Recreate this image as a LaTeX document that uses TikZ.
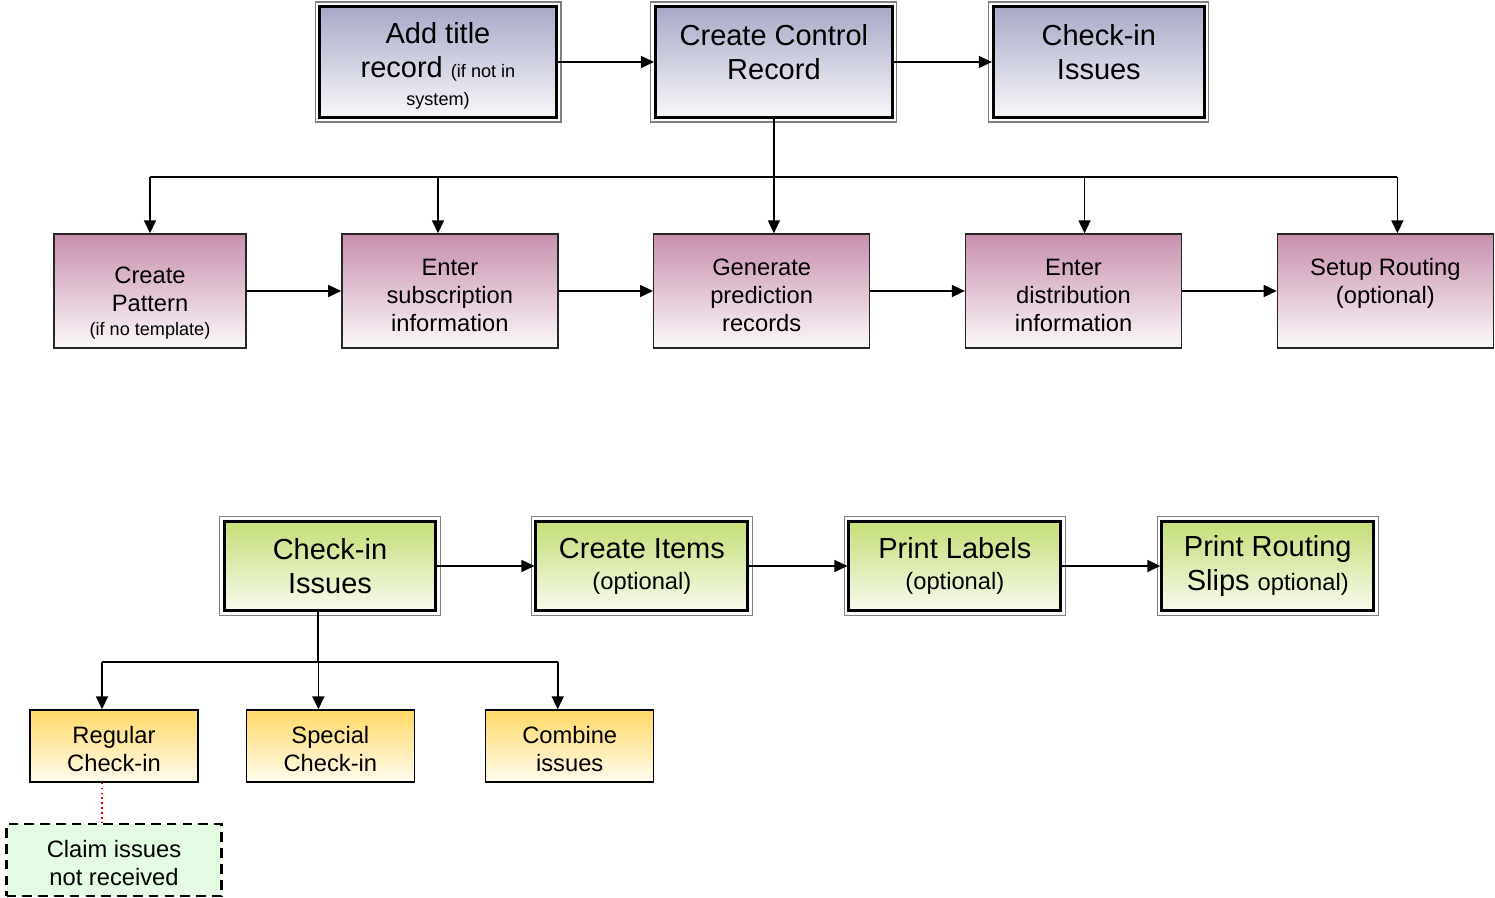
\documentclass[tikz,border=0pt]{standalone}
\usepackage{fontspec}
\setmainfont{Liberation Sans}
\usepackage{xcolor}
\usetikzlibrary{arrows.meta, positioning}

\definecolor{lilac}{HTML}{A8A9C8}
\definecolor{mauve}{HTML}{C78FAD}
\definecolor{lime}{HTML}{C4DE76}
\definecolor{butter}{HTML}{FFD966}
\definecolor{mint}{HTML}{E4FBE4}

\newcommand{\bigtxt}{\fontsize{16.5}{19.3}\selectfont}
\newcommand{\midtxt}{\fontsize{13.5}{15.8}\selectfont}
\newcommand{\smalltxt}{\fontsize{10.3}{12}\selectfont}
\newcommand{\pad}[1]{\rule{0pt}{#1}}

\begin{document}
\begin{tikzpicture}[
        x=0.02cm, y=-0.02cm,
        font=\midtxt,
        recbox/.style={rectangle, draw=black, line width=1.7pt, align=center, inner sep=2pt, top color=lilac, bottom color=lilac!8, minimum width=4.74cm, minimum height=2.22cm, font=\bigtxt},
        stepbox/.style={rectangle, draw=black!85, line width=0.8pt, align=center, inner sep=2pt, top color=mauve, bottom color=mauve!6, minimum width=4.32cm, minimum height=2.28cm},
        issuebox/.style={rectangle, draw=black, line width=1.7pt, align=center, inner sep=2pt, top color=lime, bottom color=lime!12, minimum width=4.24cm, minimum height=1.8cm, font=\bigtxt},
        modebox/.style={rectangle, draw=black, line width=0.8pt, align=center, inner sep=2pt, top color=butter, bottom color=butter!10, minimum width=3.36cm, minimum height=1.44cm},
        claimbox/.style={rectangle, draw=black, line width=1.5pt, dash pattern=on 5.5pt off 3.5pt, fill=mint, align=center, minimum width=4.3cm, minimum height=1.44cm},
        link/.style={line width=0.9pt},
        flow/.style={link, -{Triangle[length=0.26cm, width=0.24cm]}},
        frame/.style={draw=black!50, line width=0.6pt}
    ]
        \useasboundingbox (0,0) rectangle (1495,898);

        % serial record setup
        \node[recbox] (title) at (438,62) {\pad{16.5pt}Add title\\record {\smalltxt (if not in}\\[-3pt]{\smalltxt system)}};
        \node[recbox, right=1.92cm of title] (control) {\pad{16.5pt}Create Control\\Record\\[-3pt]\mbox{}};
        \node[recbox, right=1.96cm of control, minimum width=4.22cm] (checkin) {\pad{16.5pt}Check-in\\Issues\\[-3pt]\mbox{}};

        \node[stepbox, minimum width=3.84cm] (pattern) at (150,291) {\pad{23.5pt}Create\\Pattern\\[-2pt]{\smalltxt (if no template)}};
        \node[stepbox, right=1.89cm of pattern] (subscr) {\pad{14.5pt}Enter\\subscription\\information};
        \node[stepbox, right=1.89cm of subscr] (predict) {\pad{14.5pt}Generate\\prediction\\records};
        \node[stepbox, right=1.89cm of predict] (distrib) {\pad{14.5pt}Enter\\distribution\\information};
        \node[stepbox, right=1.89cm of distrib] (routing) {\pad{14.5pt}Setup Routing\\(optional)\\\mbox{}};

        % check-in of issues
        \node[issuebox] (checkinb) at (330,566) {Check-in\\Issues};
        \node[issuebox, right=1.94cm of checkinb] (items) {Create Items\\[-1.5pt]{\midtxt (optional)}};
        \node[issuebox, right=1.96cm of items] (labels) {Print Labels\\[-1.5pt]{\midtxt (optional)}};
        \node[issuebox, right=1.96cm of labels] (slips) {Print Routing\\Slips {\midtxt optional)}};

        \node[modebox] (regular) at (114,746) {\pad{13.3pt}Regular\\Check-in};
        \node[modebox, right=0.94cm of regular] (special) {\pad{13.3pt}Special\\Check-in};
        \node[modebox, right=1.40cm of special] (combine) {\pad{13.3pt}Combine\\issues};
        \node[claimbox, below=0.8cm of regular] (claim) {\pad{13.3pt}Claim issues\\not received};

        % thin outer frames
        \foreach \n in {title,control,checkin,checkinb,items,labels,slips}
            \draw[frame] ([shift={(-3,-3)}]\n.north west) rectangle ([shift={(3,3)}]\n.south east);

        % connections
        \coordinate (bus) at (0,177);
        \coordinate (split) at (0,662);
        \coordinate (disttop) at ([xshift=0.22cm]distrib.north);
        \coordinate (routtop) at ([xshift=0.24cm]routing.north);
        \coordinate (tap) at ([xshift=-0.24cm]checkinb.south);
        \foreach \n in {regular,special,combine}
            \coordinate (\n top) at ([xshift=-0.24cm]\n.north);

        \draw[flow] (title) -- (control);
        \draw[flow] (control) -- (checkin);
        \draw[flow] (control.south) -- (control |- predict.north);
        \draw[link] (pattern |- bus) -- (routtop |- bus);
        \draw[flow] (pattern |- bus) -- (pattern.north);
        \draw[flow] (title |- bus) -- (title |- subscr.north);
        \draw[flow] (disttop |- bus) -- (disttop);
        \draw[flow] (routtop |- bus) -- (routtop);
        \draw[flow] (pattern) -- (subscr);
        \draw[flow] (subscr) -- (predict);
        \draw[flow] (predict) -- (distrib);
        \draw[flow] (distrib) -- (routing);

        \draw[flow] (checkinb) -- (items);
        \draw[flow] (items) -- (labels);
        \draw[flow] (labels) -- (slips);
        \draw[link] (tap) -- (tap |- split);
        \draw[link] (regulartop |- split) -- (combinetop |- split);
        \foreach \n in {regular,special,combine}
            \draw[flow] (\n top |- split) -- (\n top);
        \draw[red, dotted, line width=0.8pt] (regulartop |- regular.south) -- (regulartop |- claim.north);
    \end{tikzpicture}
\end{document}
